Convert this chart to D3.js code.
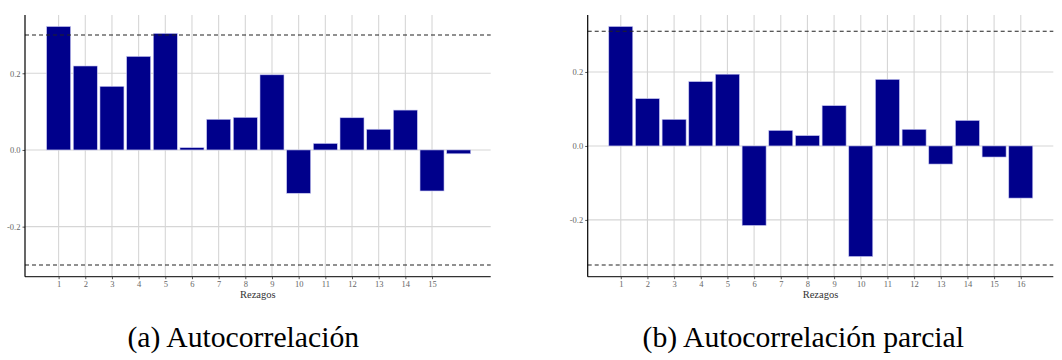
<!DOCTYPE html>
<html>
<head>
<meta charset="utf-8">
<script src="https://cdn.jsdelivr.net/npm/d3@7"></script>
<style>
  html, body { margin: 0; padding: 0; background: #fff; }
  svg { display: block; }
  svg text { font-family: "Liberation Serif", "Times New Roman", Times, serif; }
</style>
</head>
<body>
<svg id="chart" width="1062" height="360"></svg>
<script>
// ---- data ----
const lags = [1,2,3,4,5,6,7,8,9,10,11,12,13,14,15,16];
const acfValues  = [0.322,0.219,0.166,0.244,0.304,0.006,0.080,0.085,0.196,-0.113,0.017,0.084,0.054,0.104,-0.107,-0.010];
const pacfValues = [0.323,0.128,0.072,0.174,0.194,-0.215,0.042,0.028,0.109,-0.299,0.180,0.045,-0.049,0.069,-0.030,-0.141];
const acfXTicks  = [1,2,3,4,5,6,7,8,9,10,11,12,13,14,15];
const pacfXTicks = [1,2,3,4,5,6,7,8,9,10,11,12,13,14,15,16];
const yTicks = [-0.2, 0.0, 0.2];
const acfBounds  = [0.300, -0.300];
const pacfBounds = [0.310, -0.322];
const xLabel = "Rezagos";
const captions = ["(a) Autocorrelación", "(b) Autocorrelación parcial"];

// ---- drawing ----
const svg = d3.select("#chart");
const serif = "Liberation Serif, Times New Roman, serif";

const panels = [
  { values: acfValues, xTicks: acfXTicks, bounds: acfBounds, caption: captions[0],
    left: 25, right: 490.7, top: 15, bottom: 276.7,
    xDomain: [-0.26, 17.2], yDomain: [-0.3306, 0.352], capX: 243.3 },
  { values: pacfValues, xTicks: pacfXTicks, bounds: pacfBounds, caption: captions[1],
    left: 587.7, right: 1053.3, top: 15, bottom: 276.7,
    xDomain: [-0.24, 17.22], yDomain: [-0.3535, 0.354], capX: 803.3 }
];

panels.forEach(p => {
  const g = svg.append("g");
  const x = d3.scaleLinear().domain(p.xDomain).range([p.left, p.right]);
  const y = d3.scaleLinear().domain(p.yDomain).range([p.bottom, p.top]);
  const step = x(2) - x(1);
  const bw = step * 0.9;

  // horizontal grid
  g.selectAll("line.hg").data(yTicks).join("line")
    .attr("x1", p.left).attr("x2", p.right)
    .attr("y1", d => y(d)).attr("y2", d => y(d))
    .attr("stroke", "#d6d6d6").attr("stroke-width", 1.1);
  // vertical grid
  g.selectAll("line.vg").data(p.xTicks).join("line")
    .attr("x1", d => x(d)).attr("x2", d => x(d))
    .attr("y1", p.top).attr("y2", p.bottom)
    .attr("stroke", "#d6d6d6").attr("stroke-width", 1.1);

  // bars
  g.selectAll("rect.bar").data(lags.map((l, i) => ({ lag: l, v: p.values[i] }))).join("rect")
    .attr("x", d => x(d.lag) - bw / 2)
    .attr("width", bw)
    .attr("y", d => Math.min(y(d.v), y(0)))
    .attr("height", d => Math.abs(y(d.v) - y(0)))
    .attr("fill", "#00008B")
    .attr("stroke", "#c8c8f2").attr("stroke-width", 0.6);

  // confidence bounds
  g.selectAll("line.bd").data(p.bounds).join("line")
    .attr("x1", p.left).attr("x2", p.right)
    .attr("y1", d => y(d)).attr("y2", d => y(d))
    .attr("stroke", "#222").attr("stroke-width", 1.1)
    .attr("stroke-dasharray", "4,3");

  // axes
  const xAxis = d3.axisBottom(x).tickValues(p.xTicks).tickSize(2.5).tickPadding(2)
    .tickFormat(d => String(d));
  const gx = g.append("g").attr("transform", `translate(0,${p.bottom})`).call(xAxis)
    .attr("font-family", serif);
  gx.select(".domain").remove();
  gx.selectAll(".tick line").attr("stroke", "#555");
  gx.selectAll(".tick text").attr("fill", "#666").style("font-size", "8.5px");

  const yAxis = d3.axisLeft(y).tickValues(yTicks).tickSize(2.5).tickPadding(2)
    .tickFormat(d => d.toFixed(1));
  const gy = g.append("g").attr("transform", `translate(${p.left},0)`).call(yAxis)
    .attr("font-family", serif);
  gy.select(".domain").remove();
  gy.selectAll(".tick line").attr("stroke", "#555");
  gy.selectAll(".tick text").attr("fill", "#666").style("font-size", "8.5px");

  // axis lines
  g.append("line").attr("x1", p.left).attr("x2", p.right)
    .attr("y1", p.bottom).attr("y2", p.bottom)
    .attr("stroke", "#333").attr("stroke-width", 1.2);
  g.append("line").attr("x1", p.left).attr("x2", p.left)
    .attr("y1", p.top).attr("y2", p.bottom)
    .attr("stroke", "#000").attr("stroke-width", 1.2);

  // x label
  g.append("text").attr("x", (p.left + p.right) / 2).attr("y", 298)
    .attr("text-anchor", "middle").style("font-size", "10.5px")
    .attr("fill", "#333").text(xLabel);

  // caption
  g.append("text").attr("x", p.capX).attr("y", 346.5)
    .attr("text-anchor", "middle").style("font-size", "29.7px")
    .attr("fill", "#000").text(p.caption);
});
</script>
</body>
</html>
